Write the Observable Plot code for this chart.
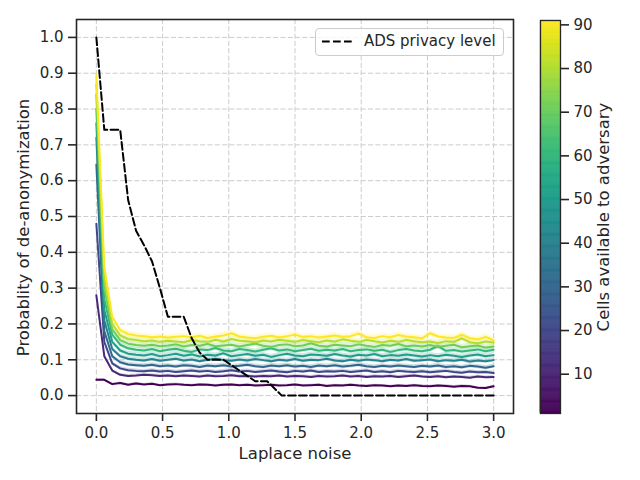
<!DOCTYPE html>
<html><head><meta charset="utf-8">
<script src="https://cdn.jsdelivr.net/npm/d3@7"></script>
<script src="https://cdn.jsdelivr.net/npm/@observablehq/plot@0.6"></script>
<style>
body{margin:0;background:#fff;}
#wrap{position:relative;width:640px;height:480px;font-family:"DejaVu Sans",sans-serif;color:#262626;background:#fff;overflow:hidden;}
#main{position:absolute;left:0;top:0;}
#cbar{position:absolute;left:530px;top:0;}
#legend{position:absolute;left:315px;top:28px;width:189px;height:28px;border:1px solid #cccccc;border-radius:4px;background:rgba(255,255,255,0.8);box-sizing:border-box;}
#legend svg{position:absolute;left:5px;top:0;}
#legend span{position:absolute;left:48px;top:5px;font-size:15px;line-height:15px;white-space:nowrap;color:#262626;}
</style></head>
<body>
<div id="wrap"><div id="main"></div><div id="cbar"></div>
<div id="legend"><svg width="34" height="26"><line x1="1" x2="31" y1="12.5" y2="12.5" stroke="#000" stroke-width="2" stroke-dasharray="7.7,3.3"></line></svg><span id="legtext"></span></div>
</div>
<script>
const xLabel = "Laplace noise";
const yLabel = "Probablity of de-anonymization";
const cbLabel = "Cells available to adversary";
const legendLabel = "ADS privacy level";

const xTicks = [0, 0.5, 1.0, 1.5, 2.0, 2.5, 3.0];
const yTicks = [0, 0.1, 0.2, 0.3, 0.4, 0.5, 0.6, 0.7, 0.8, 0.9, 1.0];
const cbTicks = [10, 20, 30, 40, 50, 60, 70, 80, 90];

const noise = [0,0.06,0.12,0.18,0.24,0.30,0.36,0.42,0.48,0.54,
 0.60,0.66,0.72,0.78,0.84,0.90,0.96,1.02,1.08,1.14,
 1.20,1.26,1.32,1.38,1.44,1.50,1.56,1.62,1.68,1.74,
 1.80,1.86,1.92,1.98,2.04,2.10,2.16,2.22,2.28,2.34,
 2.40,2.46,2.52,2.58,2.64,2.70,2.76,2.82,2.88,2.94,
 3.00];

const cells = [1, 11, 21, 31, 41, 51, 61, 71, 81, 91];

const y1 = [0.044,0.044,0.032,0.035,0.030,0.034,0.031,0.033,0.029,0.031,
 0.032,0.030,0.029,0.031,0.030,0.028,0.030,0.031,0.029,0.030,
 0.028,0.029,0.030,0.028,0.029,0.031,0.028,0.029,0.030,0.027,
 0.029,0.028,0.030,0.028,0.027,0.029,0.028,0.026,0.028,0.027,
 0.029,0.027,0.026,0.028,0.027,0.025,0.027,0.026,0.022,0.021,
 0.026];
const y11 = [0.280,0.110,0.070,0.058,0.055,0.056,0.058,0.057,0.055,0.056,
 0.054,0.056,0.055,0.053,0.056,0.054,0.055,0.057,0.054,0.055,
 0.053,0.055,0.054,0.056,0.053,0.055,0.054,0.052,0.055,0.053,
 0.054,0.056,0.053,0.055,0.052,0.054,0.053,0.055,0.052,0.054,
 0.056,0.053,0.052,0.054,0.051,0.053,0.052,0.050,0.053,0.051,
 0.052];
const y21 = [0.480,0.150,0.090,0.076,0.071,0.069,0.068,0.070,0.067,0.069,
 0.066,0.068,0.070,0.067,0.069,0.066,0.068,0.071,0.067,0.069,
 0.066,0.068,0.070,0.067,0.065,0.069,0.067,0.070,0.066,0.068,
 0.067,0.069,0.066,0.068,0.070,0.066,0.068,0.065,0.069,0.067,
 0.066,0.068,0.065,0.067,0.069,0.066,0.064,0.067,0.065,0.066,
 0.063];
const y31 = [0.645,0.180,0.110,0.093,0.087,0.085,0.083,0.086,0.082,0.084,
 0.081,0.085,0.083,0.080,0.084,0.082,0.085,0.081,0.083,0.086,
 0.082,0.080,0.084,0.082,0.085,0.081,0.083,0.080,0.084,0.082,
 0.085,0.081,0.083,0.086,0.082,0.080,0.083,0.081,0.084,0.082,
 0.080,0.083,0.081,0.084,0.080,0.082,0.079,0.083,0.081,0.078,
 0.082];
const y41 = [0.720,0.210,0.130,0.110,0.103,0.100,0.098,0.102,0.097,0.100,
 0.103,0.098,0.101,0.096,0.100,0.103,0.099,0.097,0.101,0.098,
 0.102,0.099,0.096,0.100,0.098,0.102,0.097,0.100,0.099,0.103,
 0.098,0.096,0.100,0.097,0.101,0.099,0.096,0.100,0.098,0.102,
 0.097,0.099,0.101,0.096,0.099,0.097,0.100,0.095,0.098,0.096,
 0.099];
const y51 = [0.760,0.240,0.150,0.126,0.117,0.114,0.112,0.116,0.110,0.113,
 0.117,0.111,0.115,0.109,0.114,0.112,0.118,0.110,0.113,0.116,
 0.111,0.114,0.108,0.113,0.117,0.112,0.110,0.115,0.113,0.111,
 0.116,0.112,0.109,0.114,0.112,0.116,0.110,0.113,0.111,0.115,
 0.112,0.109,0.113,0.110,0.114,0.111,0.108,0.112,0.115,0.110,
 0.113];
const y61 = [0.800,0.270,0.170,0.142,0.132,0.128,0.126,0.130,0.124,0.128,
 0.131,0.125,0.122,0.129,0.127,0.133,0.126,0.124,0.130,0.127,
 0.123,0.128,0.132,0.126,0.129,0.124,0.127,0.131,0.125,0.128,
 0.126,0.130,0.124,0.127,0.129,0.125,0.128,0.122,0.127,0.130,
 0.126,0.124,0.128,0.138,0.125,0.127,0.123,0.126,0.129,0.124,
 0.128];
const y71 = [0.840,0.300,0.185,0.155,0.145,0.141,0.139,0.142,0.138,0.140,
 0.143,0.137,0.141,0.139,0.144,0.138,0.140,0.142,0.137,0.141,
 0.145,0.139,0.136,0.141,0.143,0.138,0.140,0.146,0.139,0.137,
 0.142,0.140,0.138,0.143,0.139,0.136,0.141,0.139,0.144,0.138,
 0.140,0.137,0.141,0.136,0.139,0.142,0.135,0.138,0.140,0.134,
 0.137];
const y81 = [0.870,0.330,0.200,0.168,0.158,0.155,0.152,0.154,0.150,0.153,
 0.151,0.149,0.155,0.152,0.150,0.156,0.151,0.158,0.153,0.152,
 0.149,0.154,0.151,0.156,0.153,0.150,0.155,0.152,0.149,0.154,
 0.151,0.157,0.153,0.150,0.155,0.152,0.148,0.153,0.150,0.155,
 0.152,0.149,0.151,0.147,0.152,0.150,0.160,0.149,0.146,0.151,
 0.148];
const y91 = [0.895,0.360,0.220,0.183,0.172,0.168,0.166,0.163,0.165,0.162,
 0.164,0.166,0.163,0.167,0.161,0.165,0.168,0.174,0.165,0.162,
 0.160,0.164,0.167,0.162,0.166,0.170,0.164,0.166,0.162,0.165,
 0.168,0.164,0.166,0.173,0.163,0.161,0.166,0.163,0.169,0.165,
 0.163,0.160,0.174,0.165,0.162,0.161,0.170,0.160,0.157,0.164,
 0.155];

const bandHalf = [0.003, 0.004, 0.005, 0.006, 0.006, 0.007, 0.007, 0.008, 0.008, 0.008];

const adsX = [0, 0.06, 0.18, 0.24, 0.30, 0.36, 0.42, 0.48, 0.54, 0.66, 0.72, 0.78, 0.84, 0.96, 1.08, 1.20, 1.29, 1.40, 3.00];
const adsY = [1.0, 0.742, 0.742, 0.546, 0.46, 0.42, 0.375, 0.30, 0.22, 0.22, 0.16, 0.12, 0.10, 0.10, 0.07, 0.04, 0.04, 0.0, 0.0];

const series = [y1, y11, y21, y31, y41, y51, y61, y71, y81, y91];
const rows = [];
series.forEach((vals, j) => {
  vals.forEach((v, i) => {
    rows.push({cells: cells[j], noise: noise[i], prob: v, lo: v - bandHalf[j], hi: v + bandHalf[j]});
  });
});
const ads = adsX.map((x, i) => ({noise: x, prob: adsY[i]}));

const colorOpts = {type: "linear", scheme: "viridis", domain: [1, 91]};
const fmt = d3.format(".1f");
const ink = "#262626";
const dashGrid = "5.1,2.2";

const main = Plot.plot({
  width: 530, height: 480,
  marginLeft: 76, marginRight: 17, marginTop: 19, marginBottom: 67,
  x: {domain: [-0.15, 3.15]},
  y: {domain: [-0.05, 1.05]},
  color: colorOpts,
  style: {fontFamily: "DejaVu Sans", fontSize: "15px", color: ink, background: "white", overflow: "visible"},
  marks: [
    Plot.gridX(xTicks, {stroke: "#cccccc", strokeOpacity: 1, strokeWidth: 1, strokeDasharray: dashGrid}),
    Plot.gridY(yTicks, {stroke: "#cccccc", strokeOpacity: 1, strokeWidth: 1, strokeDasharray: dashGrid}),
    Plot.areaY(rows, {x: "noise", y1: "lo", y2: "hi", z: "cells", fill: "cells", fillOpacity: 0.22}),
    Plot.line(rows, {x: "noise", y: "prob", z: "cells", stroke: "cells", strokeWidth: 2, strokeLinejoin: "round"}),
    Plot.line(ads, {x: "noise", y: "prob", stroke: "#000", strokeWidth: 2, strokeDasharray: "7.7,3.3"}),
    Plot.frame({stroke: ink, strokeWidth: 1.6}),
    Plot.axisX(xTicks, {tickFormat: fmt, tickSize: 8, tickPadding: 6, label: null, stroke: ink, strokeWidth: 1.6, fontSize: 15}),
    Plot.axisY(yTicks, {tickFormat: fmt, tickSize: 8, tickPadding: 5, label: null, stroke: ink, strokeWidth: 1.6, fontSize: 15}),
    Plot.text([xLabel], {frameAnchor: "bottom", dy: 34, lineAnchor: "top", textAnchor: "middle", text: d => d, fontSize: 16.5, fill: ink}),
    Plot.text([yLabel], {frameAnchor: "left", dx: -52.5, dy: 11, rotate: -90, textAnchor: "middle", lineAnchor: "middle", text: d => d, fontSize: 16.5, fill: ink})
  ]
});
document.getElementById("main").appendChild(main);

const ramp = d3.range(1, 91, 0.25);
const cbar = Plot.plot({
  width: 110, height: 480,
  marginLeft: 10, marginRight: 80, marginTop: 20, marginBottom: 67,
  x: {domain: [0, 1], axis: null},
  y: {domain: [1, 91]},
  color: colorOpts,
  style: {fontFamily: "DejaVu Sans", fontSize: "15px", color: ink, background: "white", overflow: "visible"},
  marks: [
    Plot.rect(ramp, {x1: 0, x2: 1, y1: d => d, y2: d => d + 0.25, fill: d => d + 0.125, stroke: d => d + 0.125, strokeWidth: 0.6}),
    Plot.frame({stroke: ink, strokeWidth: 1.3}),
    Plot.axisY(cbTicks, {anchor: "right", tickSize: 8, tickPadding: 5, label: null, stroke: ink, strokeWidth: 1.6, fontSize: 15}),
    Plot.text([cbLabel], {frameAnchor: "right", dx: 43, rotate: -90, textAnchor: "middle", lineAnchor: "middle", text: d => d, fontSize: 16.5, fill: ink})
  ]
});
document.getElementById("cbar").appendChild(cbar);
document.getElementById("legtext").textContent = legendLabel;
</script>
</body></html>
